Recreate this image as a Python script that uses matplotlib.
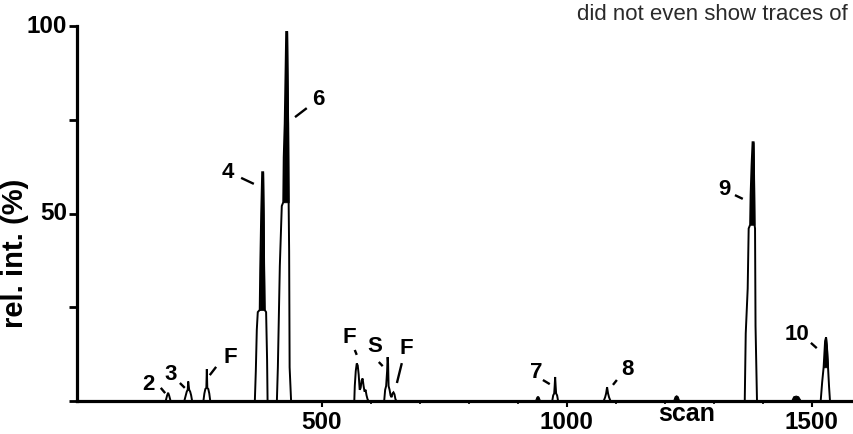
import matplotlib
matplotlib.use("Agg")
import matplotlib.pyplot as plt
import numpy as np
from matplotlib.ticker import FixedLocator

plt.rcParams['font.family'] = ['Liberation Sans', 'DejaVu Sans']

# ---------------- data (scan number vs relative intensity %) ----------------
p2_scan = [181, 184, 186, 188, 191]
p2_int = [0, 1.5, 2.2, 1.5, 0]

p3_scan = [219, 222, 224, 226, 227, 229, 231, 233, 235]
p3_int = [0, 1.5, 2.5, 3, 5.2, 3, 2.5, 1.5, 0]

pf1_scan = [258, 260, 262, 264, 265, 266, 268, 270, 272]
pf1_int = [0, 2, 3.2, 3.5, 8.5, 3.5, 3.2, 2, 0]

p4_scan = [363, 365, 367, 369, 373, 374, 376, 378, 380, 381, 382, 383, 386, 388, 389]
p4_int = [0, 8, 19, 23.7, 24.3, 35, 50, 61, 61, 50, 35, 24.3, 23.7, 11, 0]

p6_scan = [408, 410, 414, 418, 421, 422, 424, 426, 427, 429, 430, 431, 432, 433, 434, 437]
p6_int = [0, 9, 36, 52, 53, 65, 74, 90, 98.4, 98.4, 85, 74, 53, 40, 9, 0]

pfg_scan = [566, 567, 569, 571, 573, 575, 577, 579, 581, 583, 585, 587, 589, 591, 593, 595]
pfg_int = [0, 4, 8, 10, 9.5, 7, 3, 3.5, 5.5, 6, 4, 2.5, 3, 1.5, 0.5, 0]

ps_scan = [627, 629, 631, 633, 634, 635, 636, 638, 640, 642, 644, 646, 648, 650, 652]
ps_int = [0, 3, 4, 8, 11.7, 10, 4, 3, 1.5, 1, 2, 2.3, 1.8, 0.5, 0]

b1_scan = [936, 939, 941, 943, 946]
b1_int = [0, 1.0, 1.2, 1.0, 0]

p7_scan = [970, 972, 974, 975, 976, 977, 978, 980, 982]
p7_int = [0, 1.5, 2, 4, 6.4, 4, 2, 1.5, 0]

p8_scan = [1075, 1078, 1080, 1082, 1084, 1086, 1089]
p8_int = [0, 1, 2, 3.7, 2, 1, 0]

b2_scan = [1218, 1221, 1224, 1227, 1230]
b2_int = [0, 1.1, 1.4, 1.1, 0]

p9_scan = [1363, 1365, 1369, 1371, 1374, 1375, 1377, 1379, 1381, 1382, 1383, 1384, 1385, 1388]
p9_int = [0, 18, 30, 46, 47, 55, 63, 69, 69, 60, 47, 46, 20, 0]

b3_scan = [1459, 1463, 1468, 1473, 1478]
b3_int = [0, 1.1, 1.3, 1.1, 0]

p10_scan = [1518, 1521, 1524, 1527, 1529, 1531, 1533, 1535, 1537]
p10_int = [0, 5, 9, 16, 17, 14, 9, 4, 0]

peaks = [(p2_scan, p2_int), (p3_scan, p3_int), (pf1_scan, pf1_int),
         (p4_scan, p4_int), (p6_scan, p6_int), (pfg_scan, pfg_int),
         (ps_scan, ps_int), (p7_scan, p7_int), (p8_scan, p8_int),
         (p9_scan, p9_int), (p10_scan, p10_int)]
bumps = [(b1_scan, b1_int), (b2_scan, b2_int), (b3_scan, b3_int)]

# large peaks whose narrow upper part is printed solid black, with the level
# (in %) where the solid core begins
cores = [(p4_scan, p4_int, 24.3), (p6_scan, p6_int, 53), (p9_scan, p9_int, 47),
         (p10_scan, p10_int, 9)]

# peak labels: text, label position, leader line (x0, y0, x1, y1)
label_texts = ['2', '3', 'F', '4', '6', 'F', 'S', 'F', '7', '8', '9', '10']
label_pos = [(145, 4.3), (192, 7.2), (312, 11.7), (308, 61), (492, 80.3),
             (555, 17), (608, 14.4), (673, 14.1), (937, 7.7), (1124, 8.3),
             (1322, 56.3), (1469, 17.6)]
leaders = [(171, 3.5, 180, 2.1), (210, 4.8, 220, 3.5), (271, 6.9, 284, 9.1),
           (335, 59.5, 361, 57.9), (445, 75.7, 469, 78.1), (567, 13.6, 571, 12.3),
           (616, 10.4, 624, 9.3), (653, 4.8, 663, 10.1), (951, 5.6, 965, 4.5),
           (1094, 4.3, 1102, 5.6), (1343, 54.9, 1359, 53.9), (1498, 15.5, 1510, 14.1)]

x_major = [500, 1000, 1500]
x_minor = [600, 700, 800, 900, 1100, 1200, 1300, 1400]
y_ticks = [0, 25, 50, 75, 100]
y_labels = ['', '', '50', '', '100']

# ---------------- figure ----------------
W, H = 854, 434
fig = plt.figure(figsize=(W / 100, H / 100), dpi=100)
ax = fig.add_axes([77 / W, 1 - 401 / H, 1 - 77 / W, 375 / H])
ax.set_xlim(0, 1586)
ax.set_ylim(0, 100)

for xs, ys in peaks:
    ax.plot(xs, ys, color='black', lw=1.4, solid_joinstyle='miter', clip_on=False)
for xs, ys, lvl in cores:
    xa, ya = np.asarray(xs, float), np.asarray(ys, float)
    ax.fill_between(xa, ya, lvl, where=ya >= lvl, interpolate=True,
                    color='black', lw=0.6)
for xs, ys in bumps:
    ax.fill(xs, ys, color='black', lw=0.8)

for t, (tx, ty), (x0, y0, x1, y1) in zip(label_texts, label_pos, leaders):
    ax.text(tx, ty, t, fontsize=16, fontweight='bold', ha='center', va='center')
    ax.plot([x0, x1], [y0, y1], color='black', lw=1.7, solid_capstyle='butt')

for s in ['top', 'right']:
    ax.spines[s].set_visible(False)
for s in ['left', 'bottom']:
    ax.spines[s].set_linewidth(2.3)

ax.xaxis.set_major_locator(FixedLocator(x_major))
ax.xaxis.set_minor_locator(FixedLocator(x_minor))
ax.set_xticklabels([str(v) for v in x_major])
ax.tick_params(axis='x', which='major', length=4, width=1.5, pad=3.5,
               labelsize=17.5, direction='out')
ax.tick_params(axis='x', which='minor', length=2.5, width=1.2, direction='out')
for lab in ax.get_xticklabels():
    lab.set_fontweight('bold')

ax.yaxis.set_major_locator(FixedLocator(y_ticks))
ax.set_yticklabels(y_labels)
ax.tick_params(axis='y', which='major', length=6, width=2.0, pad=1,
               labelsize=17.5, direction='out')
for lab in ax.get_yticklabels():
    lab.set_fontweight('bold')
    lab.set_verticalalignment('center')

fig.text(15 / W, 1 - 253 / H, 'rel. int. (%)', rotation=90, fontsize=21,
         fontweight='bold', ha='center', va='center')
fig.text(687 / W, 1 - 421 / H, 'scan', fontsize=18, fontweight='bold',
         ha='center', va='baseline')
fig.text(848 / W, 1 - 20 / H, 'did not even show traces of', fontsize=16,
         color='#2a2a2a', ha='right', va='baseline')

fig.savefig('out.png', dpi=100)
